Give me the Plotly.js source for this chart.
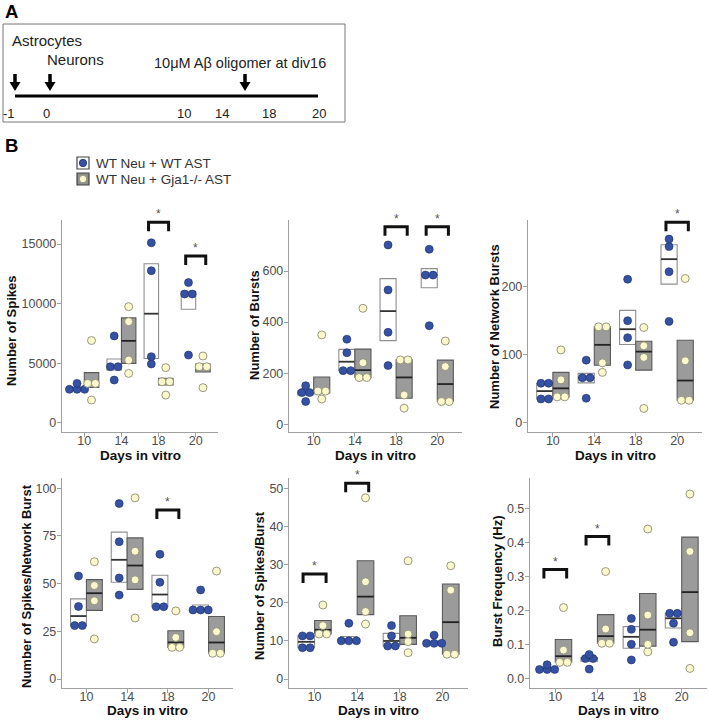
<!DOCTYPE html>
<html><head><meta charset="utf-8">
<script src="https://cdn.plot.ly/plotly-3.0.1.min.js"></script>
<style>html,body{margin:0;padding:0;background:#fff}#chart{width:709px;height:721px}</style>
</head><body><div id="chart"></div>
<script>
// ---------------- DATA ----------------
const days = ['10', '14', '18', '20'];
const groups = ['WT Neu + WT AST', 'WT Neu + Gja1-/- AST'];

const spikesWT = [[2800,2800,2800,3300],[3580,4700,4700,7280],[4930,5540,12760,15100],[5680,10800,10800,11760]];
const spikesKO = [[1900,3300,3300,6900],[4140,5260,8480,9740],[2320,3440,3440,4620],[2940,4700,4700,5600]];
const burstsWT = [[89,124,124,151],[210,210,280,333],[230,360,526,702],[386,584,584,685]];
const burstsKO = [[99,130,130,350],[183,183,241,454],[63,115,252,252],[89,89,226,326]];
const netBurstsWT = [[35,35,58,58],[36,66,66,92],[85,125,150,211],[149,222,259,270]];
const netBurstsKO = [[38,38,63,107],[74,88,141,141],[21,96,113,140],[33,33,91,212]];
const spikesPerNBWT = [[28,28,38,54],[44,53,72,92],[37.9,37.9,50.7,65.4],[36.2,36.2,36.2,46.7]];
const spikesPerNBKO = [[21,41,49,61.5],[32,52,67,95],[16.6,16.6,21.8,35.7],[13.5,13.5,24.8,56.6]];
const spikesPerBurstWT = [[8.2,8.2,11.3,11.3],[10,10,10,14.6],[8.65,8.65,11.3,14],[9.35,9.35,9.35,11.5]];
const spikesPerBurstKO = [[11.8,11.8,14,19.4],[14.4,17.7,25.5,47.5],[6.9,9.8,11.8,31],[6.5,6.5,23.3,29.7]];
const burstFreqWT = [[0.026,0.026,0.026,0.04],[0.027,0.058,0.058,0.07],[0.054,0.1,0.144,0.176],[0.106,0.162,0.191,0.191]];
const burstFreqKO = [[0.047,0.047,0.083,0.208],[0.103,0.103,0.145,0.314],[0.078,0.1,0.186,0.439],[0.029,0.134,0.373,0.542]];

// significance: day index (1-based) and bracket level
const spikesSig = [[3,16820],[4,14000]];
const burstsSig = [[3,773],[4,773]];
const netBurstsSig = [[4,294.6]];
const spikesPerNBSig = [[3,88.6]];
const spikesPerBurstSig = [[1,27.5],[2,51.3]];
const burstFreqSig = [[1,0.32],[2,0.417]];

const yTitles = ['Number of Spikes','Number of Bursts','Number of Network Bursts',
                 'Number of Spikes/Network Burst','Number of Spikes/Burst','Burst Frequency (Hz)'];
const yTicks = [[0,5000,10000,15000],[0,200,400,600],[0,100,200],[0,25,50,75,100],[0,10,20,30,40,50],[0,0.1,0.2,0.3,0.4,0.5]];
const xTitle = 'Days in vitro';
const timelineLabels = ['-1','0','10','14','18','20'];
const timelineTexts = ['Astrocytes','Neurons','10μM Aβ oligomer at div16'];

// ---------------- LAYOUT CONSTANTS ----------------
const W = 709, H = 721;
const FONT = 'Liberation Sans, Arial, sans-serif';
const px = x => x / W, py = y => 1 - y / H;

const panels = [
  {wt:spikesWT, ko:spikesKO, sig:spikesSig, x0:62, x1:218, top:220, bot:432, c0:[0,422.7], c1:[15000,244], tx:11, ty:331, fmt:'d', xt:455},
  {wt:burstsWT, ko:burstsKO, sig:burstsSig, x0:289, x1:462, top:220, bot:432, c0:[0,424.3], c1:[600,271], tx:254, ty:325, fmt:'d', xt:455},
  {wt:netBurstsWT, ko:netBurstsKO, sig:netBurstsSig, x0:528, x1:702, top:220, bot:432, c0:[0,422.7], c1:[200,286.7], tx:494, ty:327, fmt:'d', xt:455},
  {wt:spikesPerNBWT, ko:spikesPerNBKO, sig:spikesPerNBSig, x0:62, x1:233, top:478, bot:688, c0:[0,679], c1:[100,488.3], tx:26, ty:586, fmt:'d', xt:710},
  {wt:spikesPerBurstWT, ko:spikesPerBurstKO, sig:spikesPerBurstSig, x0:289, x1:468, top:478, bot:688, c0:[0,679], c1:[50,488.3], tx:259, ty:586, fmt:'d', xt:710},
  {wt:burstFreqWT, ko:burstFreqKO, sig:burstFreqSig, x0:530, x1:707, top:478, bot:688, c0:[0,678.3], c1:[0.5,508.3], tx:497, ty:582, fmt:'.1f', xt:710}
];

const BLUE = '#3451A3', BLUE_LINE = '#1c2d66';
const YEL = '#FBF8CC', YEL_LINE = '#8d8d76';
const GREYBOX = '#9b9b9b';

function quant(arr, p) {
  const s = [...arr].sort((a, b) => a - b);
  const h = (s.length - 1) * p, lo = Math.floor(h), hi = Math.min(lo + 1, s.length - 1);
  return s[lo] + (h - lo) * (s[hi] - s[lo]);
}
function dodge(vals, center, w) {
  const counts = {}, seen = {};
  vals.forEach(v => counts[v] = (counts[v] || 0) + 1);
  return vals.map(v => {
    const k = counts[v], i = (seen[v] = (seen[v] || 0) + 1) - 1;
    return center + (i - (k - 1) / 2) * w;
  });
}

const traces = [], shapes = [], annotations = [];
const layout = {
  width: W, height: H, margin: {l:0, r:0, t:0, b:0},
  paper_bgcolor: '#fff', plot_bgcolor: 'rgba(0,0,0,0)',
  showlegend: false, font: {family: FONT, size: 12, color: '#4d4d4d'},
  shapes, annotations
};

const HALF = 0.195, BW = 0.39;

panels.forEach((p, i) => {
  const sfx = i === 0 ? '' : String(i + 1);
  const xa = 'x' + sfx, ya = 'y' + sfx;
  const upp = (p.c1[0] - p.c0[0]) / (p.c0[1] - p.c1[1]); // units per px
  const val = pix => p.c0[0] + (p.c0[1] - pix) * upp;
  const pxPerUnit = (p.x1 - p.x0) / 4.2;
  const w = 7.6 / pxPerUnit;

  layout['xaxis' + sfx] = {
    domain: [px(p.x0), px(p.x1)], anchor: ya, range: [0.4, 4.6],
    tickvals: [1,2,3,4], ticktext: days, showgrid: false, zeroline: false,
    showline: true, linecolor: '#a0a0a0', linewidth: 1.2,
    ticks: 'outside', ticklen: 4, tickcolor: '#a0a0a0', tickwidth: 1, ticklabelstandoff: -7,
    tickfont: {family: FONT, size: 12.5, color: '#4d4d4d'}, fixedrange: true
  };
  layout['yaxis' + sfx] = {
    domain: [py(p.bot), py(p.top)], anchor: xa, range: [val(p.bot), val(p.top)],
    tickvals: yTicks[i], tickformat: p.fmt, showgrid: false, zeroline: false,
    showline: true, linecolor: '#a0a0a0', linewidth: 1.2,
    ticks: 'outside', ticklen: 4, tickcolor: '#a0a0a0', tickwidth: 1, ticklabelstandoff: -2,
    tickfont: {family: FONT, size: 12.5, color: '#4d4d4d'}, fixedrange: true
  };

  [[p.wt, -1], [p.ko, 1]].forEach(([data, side]) => {
    const xs = [], ys = [];
    data.forEach((vals, d) => {
      const c = d + 1 + side * HALF;
      dodge(vals, c, w).forEach((x, k) => { xs.push(x); ys.push(vals[k]); });
      const q1 = quant(vals, 0.25), med = quant(vals, 0.5), q3 = quant(vals, 0.75);
      const bx0 = side < 0 ? d + 1 - BW : d + 1, bx1 = side < 0 ? d + 1 : d + 1 + BW;
      shapes.push({type:'rect', xref:xa, yref:ya, x0:bx0, x1:bx1, y0:q1, y1:q3, layer:'below',
        fillcolor: side < 0 ? '#ffffff' : GREYBOX,
        line: {color: side < 0 ? '#8f8f8f' : '#5a5a5a', width: 1.1}});
      shapes.push({type:'line', xref:xa, yref:ya, x0:bx0, x1:bx1, y0:med, y1:med, layer:'below',
        line: {color: side < 0 ? '#333' : '#222', width: 1.8}});
    });
    traces.push({
      type:'scatter', mode:'markers', x: xs, y: ys, xaxis: xa, yaxis: ya, name: side < 0 ? groups[0] : groups[1],
      cliponaxis: false, hoverinfo: 'skip',
      marker: side < 0 ? {size: 8, color: BLUE, line: {color: BLUE_LINE, width: 0.6}}
                       : {size: 8, color: YEL, line: {color: YEL_LINE, width: 0.9}}
    });
  });

  p.sig.forEach(([d, top]) => {
    const end = top - 9 * upp;
    shapes.push({type:'path', xref:xa, yref:ya, layer:'above',
      path: `M ${d-0.27},${end} L ${d-0.27},${top} L ${d+0.27},${top} L ${d+0.27},${end}`,
      line: {color:'#111', width:3}});
    annotations.push({xref:xa, yref:ya, x:d, y:top, yshift:8, text:'*', showarrow:false,
      font:{family:FONT, size:12, color:'#555'}, xanchor:'center', yanchor:'middle'});
  });

  // axis titles
  annotations.push({xref:'paper', yref:'paper', x:px((p.x0 + p.x1) / 2), y:py(p.xt),
    text:'<b>' + xTitle + '</b>', showarrow:false, xanchor:'center', yanchor:'middle',
    font:{family:FONT, size:13.5, color:'#111'}});
  annotations.push({xref:'paper', yref:'paper', x:px(p.tx), y:py(p.ty), textangle:-90,
    text:'<b>' + yTitles[i] + '</b>', showarrow:false, xanchor:'center', yanchor:'middle',
    font:{family:FONT, size:13, color:'#111'}});
});

// ---------------- PANEL LABELS ----------------
annotations.push({xref:'paper', yref:'paper', x:px(3), y:py(11.5), text:'<b>A</b>', showarrow:false,
  xanchor:'left', yanchor:'middle', font:{family:FONT, size:18.5, color:'#000'}});
annotations.push({xref:'paper', yref:'paper', x:px(3), y:py(145.5), text:'<b>B</b>', showarrow:false,
  xanchor:'left', yanchor:'middle', font:{family:FONT, size:18.5, color:'#000'}});

// ---------------- PANEL A (timeline schematic) ----------------
shapes.push({type:'rect', xref:'paper', yref:'paper', x0:px(3), x1:px(345), y0:py(24), y1:py(122),
  line:{color:'#777', width:1}, fillcolor:'rgba(0,0,0,0)'});
shapes.push({type:'line', xref:'paper', yref:'paper', x0:px(15), x1:px(318), y0:py(96), y1:py(96),
  line:{color:'#000', width:3}});
[15, 50, 245].forEach(ax => {
  shapes.push({type:'line', xref:'paper', yref:'paper', x0:px(ax), x1:px(ax), y0:py(74), y1:py(84),
    line:{color:'#000', width:3.5}});
  shapes.push({type:'path', xref:'paper', yref:'paper',
    path:`M ${px(ax-5.5)},${py(82)} L ${px(ax+5.5)},${py(82)} L ${px(ax)},${py(91)} Z`,
    fillcolor:'#000', line:{width:0}});
});
[9, 47, 184, 222, 269, 319].forEach((lx, k) => {
  annotations.push({xref:'paper', yref:'paper', x:px(lx), y:py(113), text:timelineLabels[k], showarrow:false,
    xanchor:'center', yanchor:'middle', font:{family:FONT, size:13, color:'#222'}});
});
[[10,41,15],[45,60,15],[152,63,14.5]].forEach(([lx, ly, fs], k) => {
  annotations.push({xref:'paper', yref:'paper', x:px(lx), y:py(ly), text:timelineTexts[k], showarrow:false,
    xanchor:'left', yanchor:'middle', font:{family:FONT, size:fs, color:'#222'}});
});

// ---------------- LEGEND ----------------
[[163, '#ffffff', BLUE, BLUE_LINE], [179, '#8f8f8f', YEL, YEL_LINE]].forEach(([cy, fill, dot, dl], k) => {
  shapes.push({type:'rect', xref:'paper', yref:'paper', x0:px(77), x1:px(89), y0:py(cy+6), y1:py(cy-6),
    fillcolor: fill, line:{color:'#444', width:1.2}});
  shapes.push({type:'circle', xref:'paper', yref:'paper', x0:px(79.3), x1:px(86.7), y0:py(cy+3.7), y1:py(cy-3.7),
    fillcolor: dot, line:{color: dl, width:0.8}});
  annotations.push({xref:'paper', yref:'paper', x:px(94), y:py(cy), text:groups[k], showarrow:false,
    xanchor:'left', yanchor:'middle', font:{family:FONT, size:13.5, color:'#333'}});
});

Plotly.newPlot('chart', traces, layout, {staticPlot: true, displayModeBar: false});
</script>
</body></html>
